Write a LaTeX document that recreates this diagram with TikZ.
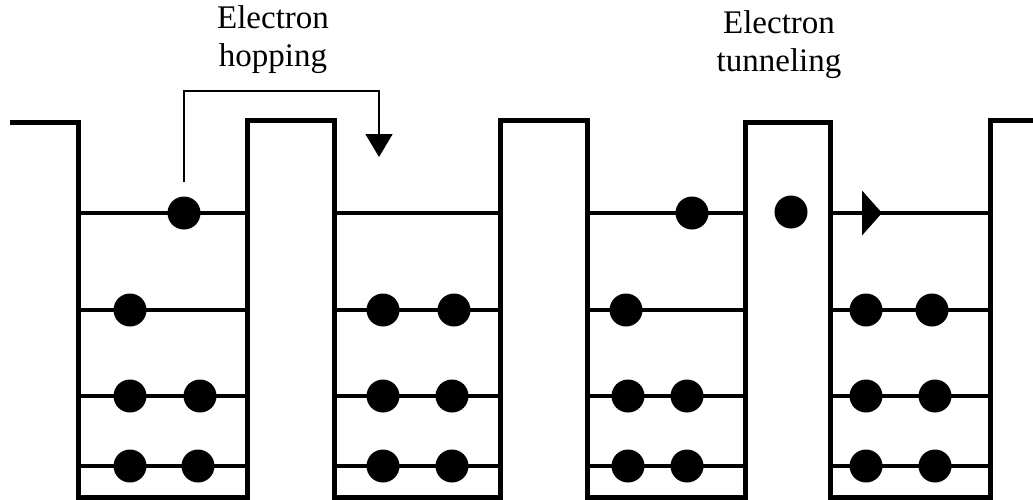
\documentclass[tikz,border=0pt]{standalone}
\usepackage{fontspec}
\setmainfont{Liberation Serif}
\usetikzlibrary{arrows.meta}
\begin{document}
\begin{tikzpicture}[x=1pt,y=-1pt,
  wall/.style={line width=5pt, line join=miter},
  enlevel/.style={line width=4.6pt},
  electron/.style={circle, fill=black, inner sep=0pt, minimum size=33pt},
  caption/.style={align=center, font=\fontsize{33}{38}\selectfont},
  hop/.style={line width=1.4pt, line join=miter, -{Triangle[length=23pt,width=27pt]}},
  tunnel/.style={line width=4.6pt, -{Triangle[length=20pt,width=44pt]}}
]
\useasboundingbox (0,0) rectangle (1033,499);

% potential profile: wells and barriers
\draw[wall] (10,122) -| (78,497) -| (247,120) -| (334,497) -| (500,120)
  -| (587,497) -| (745,122) -| (830,497) -| (990,120) -- (1033,120);

% energy levels in each well
\foreach \y in {213,310,396,466} {
  \draw[enlevel] (78,\y) -- (247,\y);
  \draw[enlevel] (334,\y) -- (500,\y);
  \draw[enlevel] (587,\y) -- (745,\y);
  \draw[enlevel] (830,\y) -- (990,\y);
}

% electrons
\node[electron] (a1) at (184,213) {};
\node[electron] (a2) at (130,310) {};
\node[electron] (a3) at (130,396) {};
\node[electron] (a4) at (200,396) {};
\node[electron] (a5) at (130,466) {};
\node[electron] (a6) at (198,466) {};

\node[electron] (b1) at (383,310) {};
\node[electron] (b2) at (454,310) {};
\node[electron] (b3) at (383,396) {};
\node[electron] (b4) at (452,396) {};
\node[electron] (b5) at (383,466) {};
\node[electron] (b6) at (452,466) {};

\node[electron] (c1) at (692,213) {};
\node[electron] (c2) at (626,310) {};
\node[electron] (c3) at (628,396) {};
\node[electron] (c4) at (687,396) {};
\node[electron] (c5) at (628,466) {};
\node[electron] (c6) at (687,466) {};

\node[electron] (t1) at (791,212) {};

\node[electron] (d1) at (866,310) {};
\node[electron] (d2) at (932,310) {};
\node[electron] (d3) at (866,396) {};
\node[electron] (d4) at (935,396) {};
\node[electron] (d5) at (866,466) {};
\node[electron] (d6) at (935,466) {};

% hopping path
\coordinate (hoptop) at (379,91);
\coordinate (hoptip) at (379,157);
\draw[hop] ([yshift=14pt]a1.north) |- (hoptop) -- (hoptip);

% tunneling direction
\coordinate (tunstart) at (830,213);
\coordinate (tuntip) at (882,213);
\draw[tunnel] (tunstart) -- (tuntip);

% captions
\node[caption] (hoptext) at (273,40) {Electron\\hopping};
\node[caption] (tuntext) at (779,45) {Electron\\tunneling};
\end{tikzpicture}
\end{document}
